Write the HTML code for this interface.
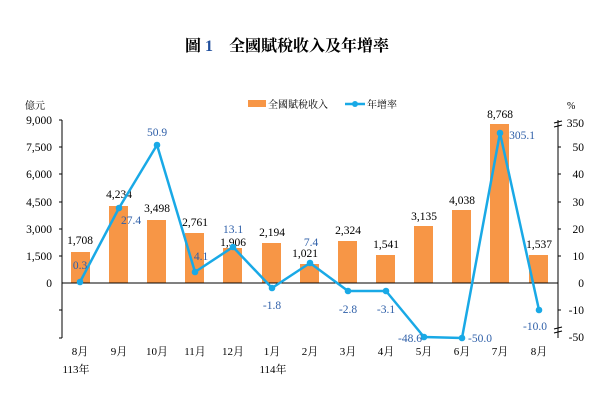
<!DOCTYPE html>
<html><head><meta charset="utf-8"><style>
html,body{margin:0;padding:0;background:#fff;}
text{font-family:"Liberation Serif","Noto Serif CJK SC",serif;}
</style></head><body>
<svg width="600" height="400" viewBox="0 0 600 400" xmlns="http://www.w3.org/2000/svg">
<text x="287" y="51" font-size="16" font-weight="bold" text-anchor="middle" fill="#000">圖 <tspan fill="#1f4e9c">1</tspan>　全國賦稅收入及年增率</text>
<rect x="248" y="100" width="18" height="7" fill="#f79646"/>
<text x="268" y="108" font-size="10" fill="#000">全國賦稅收入</text>
<line x1="345" y1="104" x2="365" y2="104" stroke="#19a9e6" stroke-width="2.5"/>
<circle cx="355" cy="104" r="3" fill="#19a9e6"/>
<text x="367" y="108" font-size="10" fill="#000">年增率</text>
<text x="25" y="109" font-size="10" fill="#000">億元</text>
<text x="567" y="109" font-size="10" fill="#000">%</text>
<g stroke="#000" stroke-width="1">
<line x1="62" y1="120" x2="62" y2="338"/>
<line x1="558" y1="120" x2="558" y2="338"/>
<line x1="59" y1="120" x2="62" y2="120"/><line x1="59" y1="147" x2="62" y2="147"/><line x1="59" y1="174" x2="62" y2="174"/><line x1="59" y1="202" x2="62" y2="202"/><line x1="59" y1="229" x2="62" y2="229"/><line x1="59" y1="256" x2="62" y2="256"/><line x1="59" y1="310" x2="62" y2="310"/><line x1="59" y1="338" x2="62" y2="338"/>
<line x1="558" y1="147" x2="561" y2="147"/><line x1="558" y1="174" x2="561" y2="174"/><line x1="558" y1="202" x2="561" y2="202"/><line x1="558" y1="229" x2="561" y2="229"/><line x1="558" y1="256" x2="561" y2="256"/><line x1="558" y1="310" x2="561" y2="310"/>
<line x1="554" y1="123" x2="562" y2="121"/><line x1="554" y1="127" x2="562" y2="125"/>
<line x1="554" y1="329" x2="562" y2="327"/><line x1="554" y1="333" x2="562" y2="331"/>
</g>
<g font-size="11.5" fill="#000" text-anchor="end">
<text x="52" y="124">9,000</text><text x="52" y="151">7,500</text><text x="52" y="178">6,000</text><text x="52" y="206">4,500</text><text x="52" y="233">3,000</text><text x="52" y="260">1,500</text><text x="52" y="287">0</text>
</g>
<g font-size="11.5" fill="#000" text-anchor="end">
<text x="584" y="127">350</text><text x="584" y="151">50</text><text x="584" y="178">40</text><text x="584" y="206">30</text><text x="584" y="233">20</text><text x="584" y="260">10</text><text x="584" y="287">0</text><text x="584" y="314">-10</text><text x="584" y="341">-50</text>
</g>
<g fill="#f79646">
<rect x="71" y="252" width="19" height="31"/>
<rect x="109" y="206" width="19" height="77"/>
<rect x="147" y="220" width="19" height="63"/>
<rect x="185" y="233" width="19" height="50"/>
<rect x="223" y="248" width="19" height="35"/>
<rect x="262" y="243" width="19" height="40"/>
<rect x="300" y="264" width="19" height="19"/>
<rect x="338" y="241" width="19" height="42"/>
<rect x="376" y="255" width="19" height="28"/>
<rect x="414" y="226" width="19" height="57"/>
<rect x="452" y="210" width="19" height="73"/>
<rect x="490" y="124" width="19" height="159"/>
<rect x="529" y="255" width="19" height="28"/>
</g>
<line x1="62" y1="283" x2="558" y2="283" stroke="#000"/>
<g font-size="11.5" fill="#000" text-anchor="middle">
<text x="80" y="244">1,708</text><text x="119" y="198">4,234</text><text x="157" y="212">3,498</text><text x="195" y="226">2,761</text><text x="233" y="246">1,906</text><text x="272" y="236">2,194</text><text x="305" y="257">1,021</text><text x="348" y="234">2,324</text><text x="386" y="248">1,541</text><text x="424" y="220">3,135</text><text x="462" y="204">4,038</text><text x="500" y="118">8,768</text><text x="539" y="248">1,537</text>
</g>
<polyline fill="none" stroke="#19a9e6" stroke-width="2.5" stroke-linejoin="round" points="80,282 119,208 157,145 195,272 233,247 272,288 310,263 348,291 386,291 424,337 462,338 500,133 539,310"/>
<g fill="#19a9e6">
<circle cx="80" cy="282" r="3.3"/><circle cx="119" cy="208" r="3.3"/><circle cx="157" cy="145" r="3.3"/><circle cx="195" cy="272" r="3.3"/><circle cx="233" cy="247" r="3.3"/><circle cx="272" cy="288" r="3.3"/><circle cx="310" cy="263" r="3.3"/><circle cx="348" cy="291" r="3.3"/><circle cx="386" cy="291" r="3.3"/><circle cx="424" cy="337" r="3.3"/><circle cx="462" cy="338" r="3.3"/><circle cx="500" cy="133" r="3.3"/><circle cx="539" cy="310" r="3.3"/>
</g>
<g font-size="11.5" fill="#2e5fa8" text-anchor="middle">
<text x="80" y="269">0.3</text><text x="131" y="224">27.4</text><text x="157" y="136">50.9</text><text x="201" y="260">4.1</text><text x="233" y="233">13.1</text><text x="272" y="309">-1.8</text><text x="311" y="246">7.4</text><text x="348" y="313">-2.8</text><text x="386" y="313">-3.1</text><text x="410" y="342">-48.6</text><text x="480" y="342">-50.0</text><text x="522" y="139">305.1</text><text x="535" y="330">-10.0</text>
</g>
<g font-size="11" fill="#000" text-anchor="middle">
<text x="80" y="355">8月</text><text x="119" y="355">9月</text><text x="157" y="355">10月</text><text x="195" y="355">11月</text><text x="233" y="355">12月</text><text x="272" y="355">1月</text><text x="310" y="355">2月</text><text x="348" y="355">3月</text><text x="386" y="355">4月</text><text x="424" y="355">5月</text><text x="462" y="355">6月</text><text x="500" y="355">7月</text><text x="539" y="355">8月</text>
<text x="76" y="373">113年</text><text x="273" y="373">114年</text>
</g>
</svg>
</body></html>
